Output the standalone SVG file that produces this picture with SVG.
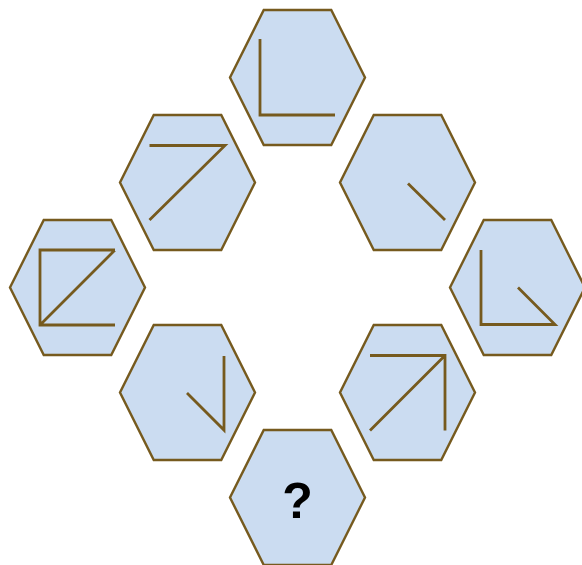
<svg xmlns="http://www.w3.org/2000/svg" width="582" height="565" viewBox="0 0 582 565">
<defs>
<style>
.hex{fill:#cbdcf1;stroke:#765a1e;stroke-width:2.4}
.ln{fill:none;stroke:#765a1e;stroke-width:2.8;stroke-linejoin:miter}
.q{font-family:"Liberation Sans",Arial,sans-serif;font-weight:bold;font-size:50px;fill:#000;text-anchor:middle}
</style>
<polygon id="hx" points="-33.75,-67.5 33.75,-67.5 67.5,0 33.75,67.5 -33.75,67.5 -67.5,0"/>
</defs>
<rect width="582" height="565" fill="#ffffff"/>
<g id="n1" transform="translate(297.5,77.5)">
<use href="#hx" class="hex"/>
<path class="ln" d="M-37.5,-38.5 L-37.5,37.5 L37.5,37.5"/>
</g>
<g id="n2" transform="translate(187.5,182.5)">
<use href="#hx" class="hex"/>
<path class="ln" d="M-38,-37 L37.5,-37 L-38,37.5"/>
</g>
<g id="n3" transform="translate(407.5,182.5)">
<use href="#hx" class="hex"/>
<path class="ln" d="M0.5,1 L37.5,37.5"/>
</g>
<g id="n4" transform="translate(77.5,287.5)">
<use href="#hx" class="hex"/>
<path class="ln" d="M37.5,-37.5 L-37.5,-37.5 L-37.5,37.5 L37.5,37.5 M37.5,-37.5 L-37.5,37.5"/>
</g>
<g id="n5" transform="translate(517.5,287.5)">
<use href="#hx" class="hex"/>
<path class="ln" d="M-36.5,-37.5 L-36.5,37 L37.5,37 L0.5,0"/>
</g>
<g id="n6" transform="translate(187.5,392.5)">
<use href="#hx" class="hex"/>
<path class="ln" d="M36.5,-36.5 L36.5,37.5 L-0.5,0.5"/>
</g>
<g id="n7" transform="translate(407.5,392.5)">
<use href="#hx" class="hex"/>
<path class="ln" d="M-37.5,-37 L37.5,-37 L37.5,38 M37.5,-37 L-37.5,38"/>
</g>
<g id="n8" transform="translate(297.5,497.5)">
<use href="#hx" class="hex"/>
<text class="q" x="0" y="20.5">?</text>
</g>
<g id="connectors"/>
</svg>
